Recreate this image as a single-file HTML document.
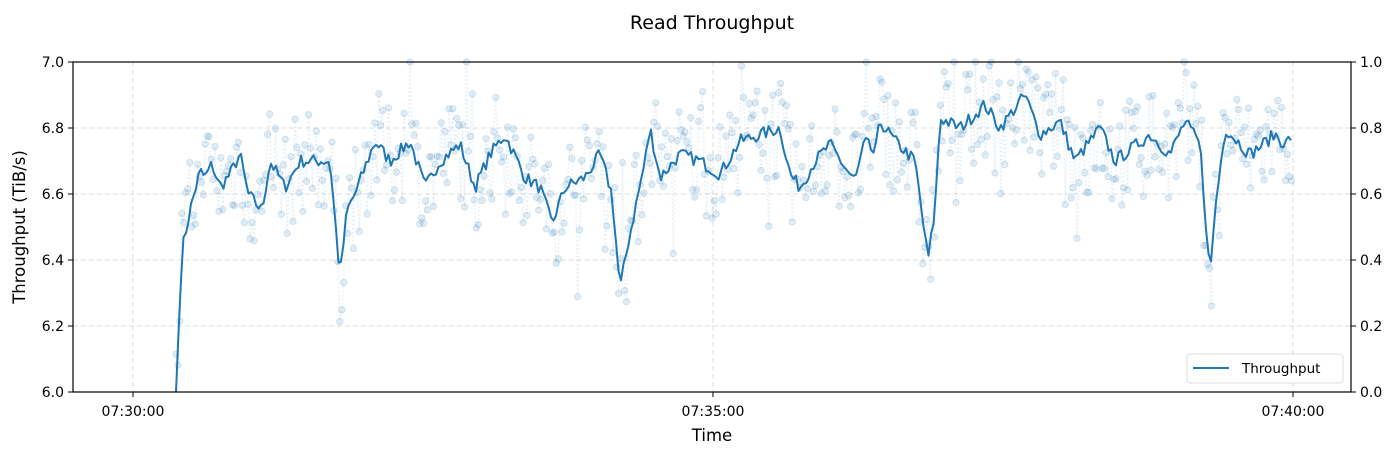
<!DOCTYPE html><html><head><meta charset="utf-8"><style>body{margin:0;background:#fff}svg{display:block;font-family:"DejaVu Sans","Liberation Sans",sans-serif}</style></head><body>
<svg id="s" width="1400" height="457" xmlns="http://www.w3.org/2000/svg">
<rect width="1400" height="457" fill="#fff"/>
<text x="712" y="29" font-size="19" text-anchor="middle">Read Throughput</text>
<g id="grid" stroke="#dcdcdc" stroke-width="1" stroke-dasharray="5,3"></g>
<g id="sc"></g>
<polyline id="ln" fill="none" stroke="#1f77b4" stroke-width="2" stroke-linejoin="round"/>
<rect x="73" y="62" width="1278" height="330" fill="none" stroke="#000" stroke-width="1.2"/>
<g id="ax" font-size="14"></g>
<text x="712" y="441" font-size="16.5" text-anchor="middle">Time</text>
<text transform="translate(25,227) rotate(-90)" font-size="16.5" text-anchor="middle">Throughput (TiB/s)</text>
<rect x="1187" y="354" width="156" height="29" rx="3" fill="#fff" stroke="#ddd"/>
<line x1="1193" y1="368" x2="1229" y2="368" stroke="#1f77b4" stroke-width="2"/>
<text x="1242" y="373" font-size="13.5">Throughput</text>
</svg>
<script>
const ns="http://www.w3.org/2000/svg";
function el(p,t,a,txt){const e=document.createElementNS(ns,t);for(const k in a)e.setAttribute(k,a[k]);if(txt)e.textContent=txt;document.getElementById(p).appendChild(e);return e;}
const Y=v=>392-(v-6)*330;
for(let i=1;i<5;i++){const y=Y(6+i*0.2);el('grid','line',{x1:73,x2:1351,y1:y,y2:y});}
for(const x of [133,713,1293])el('grid','line',{x1:x,x2:x,y1:62,y2:392});
for(let i=0;i<=5;i++){const v=6+i*0.2,y=Y(v);
el('ax','line',{x1:68,x2:73,y1:y,y2:y,stroke:'#000'});el('ax','text',{x:64,y:y+5,'text-anchor':'end'},v.toFixed(1));
el('ax','line',{x1:1351,x2:1356,y1:y,y2:y,stroke:'#000'});el('ax','text',{x:1360,y:y+5},(i*0.2).toFixed(1));}
[[133,'07:30:00'],[713,'07:35:00'],[1293,'07:40:00']].forEach(([x,t])=>{el('ax','line',{x1:x,x2:x,y1:392,y2:397,stroke:'#000'});el('ax','text',{x:x,y:416,'text-anchor':'middle'},t);});
const K=[[176,6.0],[182,6.43],[190,6.55],[200,6.67],[205,6.65],[212,6.69],[220,6.62],[230,6.66],[240,6.72],[248,6.6],[262,6.55],[270,6.70],[285,6.62],[300,6.70],[330,6.70],[340,6.35],[347,6.55],[355,6.6],[375,6.76],[390,6.70],[410,6.76],[425,6.62],[440,6.70],[460,6.75],[475,6.62],[490,6.72],[505,6.78],[525,6.65],[540,6.62],[552,6.51],[565,6.62],[585,6.65],[600,6.72],[612,6.60],[620,6.31],[628,6.45],[645,6.70],[650,6.80],[660,6.65],[680,6.72],[700,6.70],[720,6.66],[740,6.76],[780,6.80],[790,6.66],[800,6.62],[815,6.70],[830,6.75],[845,6.68],[855,6.64],[865,6.76],[875,6.72],[880,6.82],[895,6.76],[915,6.70],[928,6.40],[935,6.55],[940,6.83],[960,6.80],[985,6.87],[1000,6.80],[1025,6.90],[1040,6.78],[1060,6.82],[1075,6.70],[1100,6.80],[1115,6.70],[1150,6.78],[1170,6.72],[1185,6.82],[1200,6.75],[1210,6.35],[1215,6.55],[1225,6.80],[1250,6.72],[1275,6.78],[1285,6.75],[1293,6.78]];
let seed=7;const r=()=>{seed=(seed*16807)%2147483647;return seed/2147483647;};
function f(x){for(let i=0;i<K.length-1;i++)if(x<=K[i+1][0]){const t=(x-K[i][0])/(K[i+1][0]-K[i][0]);return K[i][1]+t*(K[i+1][1]-K[i][1]);}return K[K.length-1][1];}
let pts=[];for(let x=176;x<=1293;x+=2.5){let v=f(x)+(x>180?(r()-0.5)*0.04:0);pts.push(x.toFixed(1)+','+Y(Math.max(6,v)).toFixed(1));}
document.getElementById('ln').setAttribute('points',pts.join(' '));
let sp=[];for(let x=176;x<=1293;x+=1.95){let v=f(x)+(r()-0.5)*0.32+(r()<0.1?(r()-0.5)*0.5:0);v=Math.min(7,Math.max(6,v));sp.push([x,Y(v)]);}
el('sc','polyline',{points:sp.map(p=>p[0].toFixed(1)+','+p[1].toFixed(1)).join(' '),fill:'none',stroke:'#1f77b4','stroke-opacity':0.1,'stroke-width':1.5,'stroke-dasharray':'2,2'});
for(const p of sp)el('sc','circle',{cx:p[0],cy:p[1],r:3.2,fill:'#1f77b4','fill-opacity':0.13,stroke:'#1f77b4','stroke-opacity':0.16});
</script>
</body></html>
